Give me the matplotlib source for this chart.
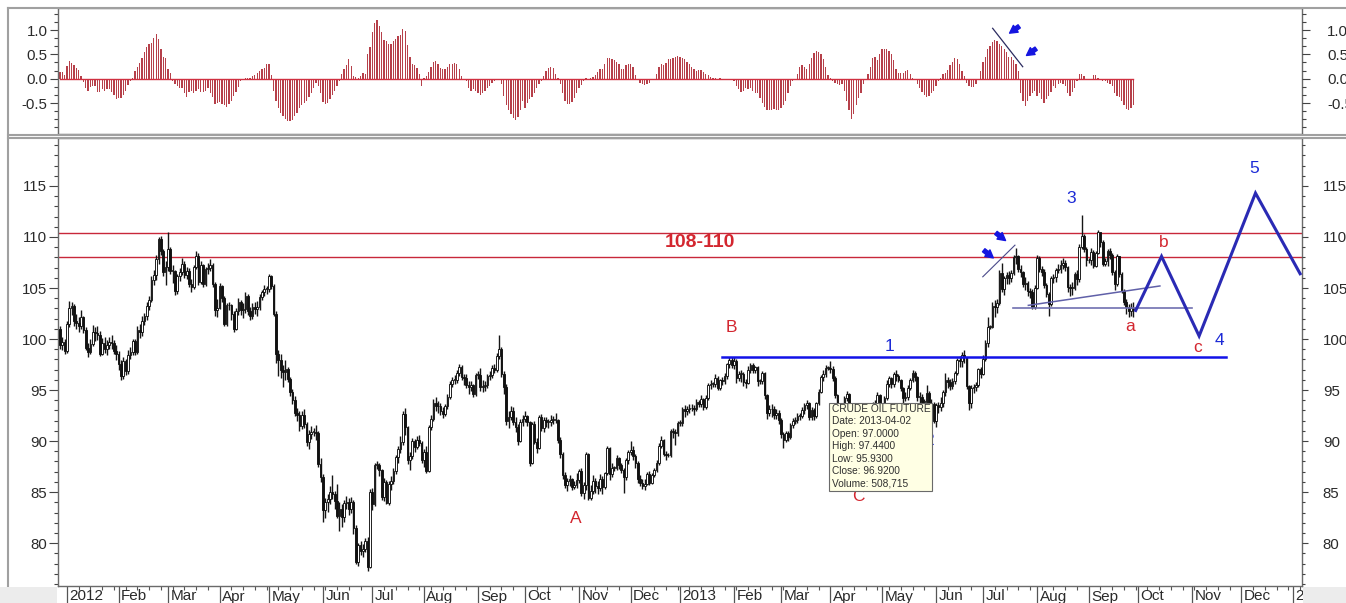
import numpy as np
import pandas as pd
import matplotlib
matplotlib.use('Agg')
import matplotlib.pyplot as plt
from matplotlib.patches import Rectangle
from matplotlib.lines import Line2D
import matplotlib.transforms as mtrans
from matplotlib.ticker import MultipleLocator, FixedLocator, NullFormatter, FormatStrFormatter

plt.rcParams['font.family'] = ['Liberation Sans', 'DejaVu Sans']

# ---------------- data (trading days from 2011-12-28) ----------------
start_date = '2011-12-28'
first_open = 101.0

closes = [
    99.4, 99.7, 98.8,
    101.5, 103.0, 103.2, 101.8, 101.6, 101.3, 102.2, 100.9, 99.1, 98.7, 99.5, 100.7, 100.6, 100.4, 98.5, 99.6, 99.0, 99.4, 99.7, 99.6, 98.8, 98.5,
    97.6, 96.4, 97.8, 96.9, 98.4, 98.7, 99.8, 98.7, 100.9, 100.7, 101.8, 102.3, 103.2, 103.8, 105.8, 106.3, 107.8, 109.8, 108.6, 106.6, 107.1,
    108.8, 106.7, 106.7, 104.7, 106.2, 106.6, 107.4, 106.3, 106.7, 105.4, 105.1, 107.1, 108.1, 105.6, 107.3, 105.4, 106.9, 107.0, 107.3, 105.4, 102.8, 103.0,
    105.2, 104.0, 101.5, 103.3, 103.3, 102.5, 101.0, 102.7, 103.6, 102.8, 102.9, 104.2, 102.7, 102.3, 103.1, 102.9, 103.1, 104.1, 104.6, 104.9, 104.9,
    106.2, 105.2, 102.5, 98.5, 97.9, 97.0, 96.8, 97.1, 96.1, 94.8, 94.0, 92.8, 92.6, 91.5, 92.6, 91.7, 89.9, 90.7, 90.9, 90.9, 90.8, 87.8, 86.5,
    83.2, 84.0, 84.3, 85.0, 84.8, 84.1, 82.7, 83.3, 82.6, 83.9, 84.0, 83.3, 84.0, 81.5, 78.2, 79.8, 79.2, 79.4, 80.2, 77.7, 85.0,
    83.8, 87.7, 87.7, 87.2, 84.5, 86.0, 83.9, 85.8, 86.1, 87.1, 88.4, 89.2, 89.9, 92.7, 91.4, 88.1, 88.5, 90.0, 89.4, 90.1, 89.8, 88.1,
    88.9, 87.1, 91.4, 92.2, 93.7, 93.4, 93.4, 92.9, 92.7, 93.4, 94.3, 95.6, 96.0, 96.0, 96.7, 97.3, 96.3, 96.2, 95.5, 95.3, 95.5, 94.6, 96.5,
    96.5, 95.3, 95.4, 95.5, 96.4, 96.5, 97.2, 97.0, 98.3, 99.0, 96.6, 95.3, 92.0, 92.4, 92.9, 91.9, 91.4, 90.0, 91.9, 92.2,
    92.5, 91.9, 87.9, 91.7, 89.9, 89.3, 92.4, 91.3, 92.1, 91.9, 91.9, 92.1, 92.1, 92.1, 90.1, 88.7, 86.7, 85.7, 86.1, 86.3, 85.5, 85.7, 86.2,
    87.1, 84.9, 85.7, 88.7, 84.4, 85.1, 86.1, 85.6, 85.4, 86.3, 85.5, 86.9, 89.3, 86.8, 87.4, 87.4, 88.3, 87.7, 87.2, 86.5, 88.1, 88.9,
    89.1, 88.5, 87.9, 86.3, 85.9, 85.6, 85.8, 86.8, 85.9, 86.7, 87.2, 87.9, 89.5, 90.1, 88.7, 88.6, 88.6, 91.0, 90.9, 90.8, 91.8,
    91.8, 93.1, 92.9, 93.1, 93.2, 93.2, 93.1, 93.8, 93.6, 94.1, 93.3, 94.2, 95.5, 95.6, 95.6, 96.2, 95.2, 96.0, 95.9, 96.4, 97.6, 97.9, 97.5,
    97.8, 96.2, 96.6, 96.6, 95.8, 95.7, 97.0, 97.5, 97.0, 97.3, 95.9, 95.9, 96.7, 94.5, 92.8, 93.1, 93.1, 92.6, 92.8, 92.1,
    90.7, 90.1, 90.8, 90.4, 91.6, 92.0, 92.1, 92.5, 92.5, 93.0, 93.5, 93.7, 92.4, 93.0, 92.5, 93.7, 94.8, 96.3, 96.6, 97.2, 97.2,
    97.1, 96.2, 94.5, 93.3, 92.7, 93.4, 94.2, 94.6, 93.5, 91.3, 88.7, 88.7, 86.7, 87.7, 88.0, 88.8, 89.2, 91.4, 93.6, 93.0, 94.5, 93.5,
    91.0, 94.2, 95.6, 96.2, 95.6, 96.6, 96.4, 96.0, 95.2, 94.2, 94.3, 95.2, 96.0, 96.7, 96.3, 94.3, 94.3, 93.8, 93.8, 94.7, 93.1, 93.6, 92.0,
    93.5, 93.3, 93.7, 94.8, 96.0, 95.8, 95.4, 95.9, 96.7, 97.9, 97.8, 98.4, 98.2, 95.4, 93.7, 95.2, 95.3, 95.5, 97.1, 96.6,
    98.0, 99.6, 101.2, 101.2, 103.2, 103.1, 103.5, 106.5, 104.9, 106.0, 106.3, 106.0, 106.5, 108.0, 108.1, 106.9, 106.6, 105.4, 105.5, 104.7, 104.6, 103.1, 105.0,
    107.9, 106.9, 106.6, 105.3, 104.4, 103.4, 106.0, 106.1, 106.8, 106.9, 107.3, 107.5, 107.1, 105.1, 105.0, 105.0, 106.4, 105.9, 109.0, 110.1, 108.8, 107.7,
    107.7, 108.5, 107.2, 108.4, 110.5, 109.5, 107.4, 107.6, 108.6, 108.2, 106.6, 105.4, 108.1, 106.4, 104.7, 103.6, 103.1, 102.7, 103.0, 102.9,
]

highs = [
    101.3, 100.2, 100.0,
    101.8, 103.7, 103.6, 103.4, 102.5, 102.2, 102.8, 102.3, 101.2, 99.6, 100.0, 101.4, 101.2, 101.3, 100.8, 100.1, 100.2, 99.9, 100.2, 100.4, 99.9, 99.4,
    98.8, 97.9, 98.2, 98.0, 98.9, 99.2, 100.0, 100.0, 101.3, 101.5, 102.3, 102.6, 103.6, 104.2, 106.2, 106.8, 108.2, 110.0, 110.1, 108.8, 107.6,
    110.5, 109.0, 107.3, 106.8, 106.4, 107.0, 107.9, 107.6, 107.1, 107.0, 105.9, 107.3, 108.6, 108.4, 107.6, 107.4, 107.1, 107.5, 107.8, 107.5, 105.6, 103.9,
    105.5, 105.3, 104.2, 103.5, 103.6, 103.4, 102.7, 103.0, 104.0, 103.8, 103.5, 104.6, 104.4, 103.1, 103.5, 103.6, 103.7, 104.4, 104.8, 105.3, 105.2,
    106.4, 106.3, 105.4, 102.7, 98.9, 98.5, 97.5, 97.9, 97.3, 96.3, 95.1, 94.4, 93.2, 92.9, 92.9, 93.1, 91.9, 91.1, 91.5, 91.3, 91.6, 91.0, 88.3,
    86.8, 84.4, 84.8, 85.6, 86.7, 85.1, 85.8, 84.0, 83.8, 84.2, 84.6, 84.4, 84.5, 84.2, 81.8, 80.0, 80.2, 79.9, 80.5, 80.6, 85.3,
    85.4, 87.9, 88.0, 87.9, 87.3, 86.4, 86.2, 86.1, 86.6, 87.4, 88.6, 89.5, 90.5, 92.9, 93.2, 91.5, 88.9, 90.3, 90.2, 90.5, 90.6, 90.0,
    89.2, 89.5, 91.6, 92.6, 94.1, 94.3, 93.9, 93.7, 93.3, 93.6, 94.6, 95.9, 96.3, 96.5, 97.0, 97.6, 97.5, 96.6, 96.6, 95.9, 95.9, 95.6, 96.7,
    96.9, 97.2, 96.0, 95.9, 96.6, 96.9, 97.5, 97.6, 98.6, 100.4, 99.2, 96.9, 95.6, 92.9, 93.4, 93.3, 92.4, 91.7, 92.2, 92.6,
    92.9, 92.6, 92.0, 91.9, 92.0, 90.3, 92.6, 92.7, 92.4, 92.4, 92.2, 92.6, 92.5, 92.8, 92.2, 90.4, 88.9, 87.0, 86.4, 86.7, 86.4, 86.1, 86.9,
    87.3, 87.4, 86.0, 88.9, 88.8, 85.7, 86.7, 86.4, 86.1, 86.8, 86.6, 87.0, 89.5, 89.4, 87.9, 87.6, 88.6, 88.4, 87.9, 87.4, 88.3, 89.1,
    90.0, 89.5, 88.7, 88.0, 86.7, 86.3, 86.3, 87.0, 87.1, 86.9, 87.4, 88.1, 89.8, 90.5, 90.2, 89.0, 88.8, 91.2, 91.3, 91.2, 92.0,
    92.1, 93.3, 93.5, 93.4, 93.6, 93.6, 93.5, 94.1, 94.0, 94.5, 94.2, 94.5, 95.7, 96.0, 95.8, 96.6, 96.4, 96.1, 96.3, 96.7, 97.7, 98.2, 98.2,
    98.2, 98.0, 96.9, 97.0, 96.8, 96.1, 97.4, 97.7, 97.7, 97.4, 97.4, 96.1, 96.9, 96.8, 94.6, 93.5, 93.6, 93.4, 93.1, 93.0,
    92.3, 90.9, 91.0, 91.0, 91.8, 92.3, 92.4, 92.8, 92.8, 93.3, 93.7, 94.0, 93.8, 93.3, 93.2, 93.8, 95.1, 96.5, 97.0, 97.5, 97.4,
    97.8, 97.4, 96.4, 94.6, 93.5, 93.6, 94.4, 94.9, 94.7, 93.6, 91.4, 89.2, 88.9, 88.0, 88.3, 89.0, 89.5, 91.6, 93.8, 94.0, 94.8, 94.6,
    93.7, 94.4, 96.0, 96.4, 96.3, 96.8, 97.0, 96.6, 96.1, 95.3, 94.8, 95.5, 96.2, 97.0, 96.9, 96.4, 94.8, 94.6, 94.1, 95.5, 94.9, 94.1, 93.8,
    93.7, 93.8, 94.3, 95.0, 96.7, 96.3, 96.1, 96.2, 96.9, 98.1, 98.3, 98.7, 98.9, 98.2, 95.5, 95.5, 95.6, 95.8, 97.2, 97.3,
    98.4, 99.9, 102.2, 101.4, 103.6, 103.8, 103.9, 106.8, 107.5, 106.2, 106.6, 106.7, 106.8, 108.2, 108.9, 108.2, 107.3, 106.7, 106.1, 105.7, 105.0, 104.9, 105.3,
    108.2, 108.1, 107.2, 106.9, 105.5, 104.6, 106.2, 106.4, 107.0, 107.4, 107.7, 107.9, 107.7, 107.2, 105.4, 105.6, 106.6, 106.8, 109.3, 112.2, 110.3, 109.0,
    107.9, 108.9, 108.7, 108.6, 110.7, 110.3, 109.7, 107.9, 108.8, 108.9, 108.4, 106.8, 108.3, 108.1, 106.6, 104.9, 103.9, 103.4, 103.5, 103.6,
]

lows = [
    99.0, 98.9, 98.5,
    98.6, 101.2, 102.4, 101.3, 101.0, 100.7, 101.0, 100.6, 98.9, 98.2, 98.5, 99.3, 99.8, 99.9, 98.3, 98.4, 98.6, 98.4, 99.0, 99.0, 98.5, 97.9,
    97.0, 96.0, 96.1, 96.5, 96.6, 98.0, 98.4, 98.4, 98.5, 100.1, 100.3, 101.4, 101.9, 102.8, 103.6, 105.3, 105.8, 107.4, 108.2, 106.2, 105.3,
    106.7, 106.4, 105.5, 104.3, 104.4, 105.7, 106.3, 106.0, 105.9, 105.1, 104.6, 104.9, 106.9, 105.3, 105.4, 105.1, 105.2, 106.4, 106.7, 105.1, 102.3, 102.2,
    102.9, 103.6, 101.3, 101.3, 102.8, 101.9, 100.7, 100.9, 102.4, 102.4, 102.1, 102.6, 102.4, 101.9, 102.0, 102.5, 102.3, 102.8, 103.8, 104.2, 104.4,
    104.6, 104.9, 102.3, 97.7, 96.4, 96.2, 95.3, 96.0, 95.8, 94.4, 93.6, 92.5, 92.0, 91.0, 91.2, 91.3, 89.5, 89.2, 90.2, 90.5, 90.1, 87.5, 86.0,
    82.1, 82.5, 83.1, 83.8, 84.3, 83.3, 82.5, 81.2, 81.6, 82.1, 83.3, 82.8, 83.0, 80.9, 78.0, 77.8, 78.8, 78.6, 79.1, 77.3, 77.6,
    83.2, 83.6, 87.3, 86.6, 84.2, 84.1, 83.8, 83.7, 85.2, 85.8, 86.8, 87.9, 88.8, 89.6, 90.6, 87.8, 87.2, 88.2, 88.9, 89.2, 89.5, 87.9,
    87.5, 86.9, 87.0, 91.1, 92.0, 92.9, 92.8, 92.6, 92.3, 92.5, 93.1, 94.1, 95.3, 95.6, 95.7, 96.4, 96.0, 95.5, 95.2, 94.6, 94.9, 94.3, 94.4,
    96.1, 94.9, 94.8, 94.9, 95.2, 96.0, 96.2, 96.7, 96.8, 98.0, 96.3, 94.6, 91.6, 91.3, 92.1, 91.6, 90.9, 89.6, 89.9, 91.5,
    91.9, 91.5, 87.6, 87.8, 89.7, 88.8, 89.2, 91.0, 90.9, 91.4, 91.3, 91.5, 91.7, 91.8, 89.8, 88.3, 86.3, 85.4, 85.1, 85.6, 85.2, 85.3, 85.4,
    85.9, 84.6, 84.3, 85.2, 84.2, 84.2, 84.8, 84.9, 84.8, 85.1, 84.8, 85.3, 86.7, 86.2, 86.5, 87.1, 87.2, 87.3, 86.9, 84.9, 86.2, 87.8,
    88.6, 88.1, 87.4, 85.9, 85.6, 85.3, 85.2, 85.7, 85.7, 85.8, 86.5, 87.0, 87.7, 89.3, 88.5, 88.1, 88.4, 88.4, 90.3, 89.6, 90.5,
    91.5, 91.5, 92.4, 92.6, 92.8, 92.9, 92.6, 92.9, 93.3, 93.3, 93.0, 93.1, 94.0, 95.1, 95.3, 95.3, 95.0, 95.0, 95.5, 95.6, 96.1, 97.2, 97.2,
    97.1, 95.7, 95.9, 95.8, 95.4, 95.2, 95.6, 96.7, 96.7, 96.7, 95.4, 95.6, 95.6, 94.1, 92.2, 92.5, 92.4, 92.2, 92.2, 91.7,
    90.3, 89.3, 89.9, 90.0, 90.2, 91.3, 91.7, 91.8, 92.1, 92.3, 92.7, 93.1, 92.1, 92.1, 92.1, 92.3, 93.5, 94.7, 95.9, 96.3, 97.0,
    96.7, 95.9, 94.2, 92.6, 92.0, 92.4, 93.2, 93.9, 93.2, 90.8, 88.1, 87.3, 86.1, 86.1, 87.2, 87.6, 88.2, 88.9, 91.1, 92.5, 92.8, 93.1,
    90.9, 90.8, 94.0, 95.3, 95.2, 95.3, 95.9, 95.8, 94.9, 93.7, 93.9, 94.0, 95.0, 95.8, 95.9, 93.9, 93.7, 92.8, 93.6, 93.6, 93.0, 92.6, 91.8,
    91.4, 92.8, 92.9, 93.3, 94.4, 95.2, 95.0, 95.1, 95.6, 96.5, 97.3, 97.3, 97.7, 95.1, 93.0, 93.2, 94.7, 94.9, 95.3, 96.2,
    96.5, 97.8, 99.2, 101.0, 101.1, 102.2, 102.6, 103.3, 104.6, 104.3, 105.4, 105.4, 105.6, 106.3, 107.4, 106.6, 106.1, 105.1, 104.8, 104.2, 104.0, 102.9, 102.9,
    104.9, 106.6, 106.2, 105.0, 104.1, 102.3, 103.2, 105.5, 105.6, 106.5, 106.5, 106.9, 106.7, 104.6, 104.2, 104.3, 104.8, 105.3, 105.6, 108.8, 108.5, 107.2,
    107.5, 107.3, 107.0, 107.1, 108.3, 109.0, 107.2, 107.2, 107.2, 107.8, 106.3, 104.8, 105.2, 106.1, 104.5, 103.3, 102.5, 102.2, 102.3, 102.2,
]

oscillator = [
    0.14, 0.14, 0.07, 0.27, 0.37, 0.33, 0.28, 0.22, 0.18, 0.05,
    -0.07, -0.2, -0.25, -0.18, -0.15, -0.15, -0.27, -0.28, -0.22, -0.25, -0.22, -0.22, -0.27, -0.33, -0.42, -0.4, -0.4, -0.33, -0.25, -0.13,
    -0.05, 0.02,
    0.15, 0.25, 0.32, 0.43, 0.55, 0.65, 0.72, 0.73, 0.83, 0.92, 0.81, 0.6, 0.45, 0.42, 0.2, 0.12,
    -0.05, -0.1, -0.15, -0.2, -0.2, -0.3, -0.37, -0.28, -0.25, -0.3, -0.25, -0.22, -0.28, -0.27, -0.25, -0.2, -0.3, -0.38, -0.52, -0.5,
    -0.48, -0.52, -0.55, -0.58, -0.52, -0.45, -0.35, -0.27, -0.18,
    -0.05, 0.0, 0.01,
    0.02, 0.02, 0.05, 0.08, 0.12, 0.15, 0.2, 0.22, 0.3, 0.3, 0.07,
    -0.25, -0.45, -0.6, -0.7, -0.77, -0.82, -0.86, -0.87, -0.84, -0.77, -0.7, -0.6, -0.55, -0.5, -0.45, -0.38, -0.3, -0.2, -0.08, -0.15,
    -0.3, -0.48, -0.52, -0.5, -0.42, -0.33, -0.25, -0.14, -0.05,
    0.1, 0.2, 0.28, 0.4, 0.27, 0.05,
    0.03, 0.02, 0.05, 0.12, 0.1, 0.5, 0.65, 0.95, 1.15, 1.2, 1.08, 0.95, 0.8, 0.78, 0.72, 0.72, 0.78, 0.82, 0.88, 0.9, 1.02, 0.98,
    0.7, 0.45, 0.3, 0.28, 0.22,
    0.1, -0.15, 0.02,
    0.05, 0.13, 0.25, 0.35, 0.36, 0.3, 0.22, 0.2, 0.2, 0.25, 0.3, 0.3, 0.32, 0.3, 0.2, 0.05,
    -0.02, -0.05, -0.2, -0.25, -0.22, -0.25, -0.3, -0.33, -0.3, -0.25, -0.2, -0.15, -0.08, -0.05, -0.02,
    -0.02, -0.1,
    -0.35, -0.55, -0.65, -0.72, -0.8, -0.84, -0.78, -0.65, -0.45, -0.6, -0.5, -0.42, -0.38, -0.3, -0.2, -0.1, -0.04,
    0.05, 0.15, 0.22, 0.23, 0.22, 0.1, 0.02,
    -0.1, -0.3, -0.45, -0.52, -0.53, -0.48, -0.4, -0.3, -0.2, -0.12, -0.05,
    0.02, -0.02, 0.01, 0.03, 0.08, 0.13, 0.2, 0.2, 0.3, 0.43, 0.42, 0.4, 0.38, 0.35, 0.3, 0.2, 0.2, 0.28, 0.3, 0.3, 0.25, 0.08,
    -0.03, -0.08, -0.1, -0.13, -0.1, -0.08, -0.03, 0.0,
    0.1, 0.25, 0.3, 0.28, 0.33, 0.4, 0.4, 0.43, 0.45, 0.46, 0.45, 0.43, 0.4, 0.35, 0.3, 0.25, 0.2, 0.15, 0.17, 0.17, 0.13, 0.1, 0.07,
    0.03, 0.02, 0.01,
    0.0, 0.02, 0.0, -0.01, 0.0, -0.02,
    -0.03, -0.05, -0.15, -0.22, -0.28, -0.25, -0.2, -0.22, -0.2, -0.25, -0.3, -0.3, -0.4, -0.5, -0.58, -0.65, -0.65, -0.65, -0.62,
    -0.65, -0.65, -0.6, -0.55, -0.45, -0.3, -0.15, -0.05, -0.02,
    0.1, 0.25, 0.28, 0.25, 0.2, 0.3, 0.42, 0.52, 0.57, 0.55, 0.5, 0.4, 0.25, 0.08, 0.02,
    -0.05, -0.08, -0.1, -0.12, -0.1, -0.25, -0.45, -0.65, -0.82, -0.72, -0.55, -0.4, -0.3, -0.1, -0.02,
    0.1, 0.25, 0.42, 0.45, 0.38, 0.5, 0.6, 0.62, 0.6, 0.57, 0.5, 0.38, 0.2, 0.12,
    0.12, 0.12, 0.15, 0.18, 0.1, 0.02,
    -0.02, -0.1, -0.2, -0.28, -0.33, -0.38, -0.35, -0.3, -0.25, -0.15, -0.05,
    0.02, 0.1, 0.12, 0.18, 0.28, 0.35, 0.42, 0.4, 0.3, 0.15, 0.05,
    -0.08, -0.15, -0.18, -0.17, -0.1, -0.02,
    0.15, 0.35, 0.45, 0.6, 0.68, 0.75, 0.8, 0.78, 0.72, 0.68, 0.6, 0.55, 0.45, 0.45, 0.38, 0.3, 0.15,
    -0.3, -0.45, -0.57, -0.45, -0.35, -0.3, -0.25, -0.35, -0.3, -0.42, -0.5, -0.42, -0.35, -0.28, -0.15, -0.2, -0.1, -0.08, -0.1,
    -0.15, -0.3, -0.35, -0.28, -0.2, -0.05,
    0.1, 0.1, 0.05, 0.0,
    0.0, 0.0, 0.08, 0.07, 0.02,
    -0.03, -0.05, -0.05, -0.08, -0.1, -0.15, -0.3, -0.35, -0.38, -0.45, -0.55, -0.62, -0.65, -0.6, -0.55,
]

resistance_levels = [108.0, 110.4]
support_level = 98.2
zone_label = '108-110'
# projected wave path (trading-day index, price)
proj_idx = [458, 469, 485, 509, 528]
proj_price = [102.8, 108.1, 100.3, 114.3, 106.4]
tooltip_lines = ['CRUDE OIL FUTURE', 'Date: 2013-04-02', 'Open: 97.0000', 'High: 97.4400',
                 'Low: 95.9300', 'Close: 96.9200', 'Volume: 508,715']

# ---------------- derived ----------------
c = np.array(closes, dtype=float)
h = np.array(highs, dtype=float)
l = np.array(lows, dtype=float)
o = np.concatenate([[first_open], c[:-1]])
h = np.maximum(h, np.maximum(o, c))
l = np.minimum(l, np.minimum(o, c))
idx = np.arange(len(c))
osc = np.array(oscillator, dtype=float)
osc_idx = np.arange(len(osc))

axis_dates = pd.bdate_range(start_date, '2014-01-10')
per = axis_dates.to_period('M')
month_firsts = [i for i in range(1, len(axis_dates)) if per[i] != per[i - 1]]
month_labels = [str(axis_dates[i].year) if axis_dates[i].month == 1 else axis_dates[i].strftime('%b')
                for i in month_firsts]
mondays = [i for i, d in enumerate(axis_dates) if d.weekday() == 0 and i not in month_firsts]

# ---------------- figure ----------------
W, H = 1346, 603
fig = plt.figure(figsize=(W / 100, H / 100), dpi=100)
fig.patch.set_facecolor('white')
L, R = 58 / W, 1302 / W
fy = lambda p: 1 - p / H
ax_o = fig.add_axes([L, fy(134), R - L, fy(8) - fy(134)])
ax = fig.add_axes([L, fy(586), R - L, fy(138) - fy(586)], sharex=ax_o)

XMIN, XMAX = -0.8, 528.8
ax.set_xlim(XMIN, XMAX)

spine_col = '#6a6a6a'
lab_col = '#2a2a2a'
for a in (ax, ax_o):
    for s in a.spines.values():
        s.set_color(spine_col)
        s.set_linewidth(1.0)

# ---- oscillator panel ----
ax_o.bar(osc_idx, osc, width=0.55, color='#b6404a', linewidth=0, zorder=2)
ax_o.plot([osc_idx[0], osc_idx[-1]], [0, 0], color='#d03040', lw=1.0, zorder=3)
ax_o.set_ylim(-1.136, 1.452)
ax_o.yaxis.set_major_locator(FixedLocator([-0.5, 0.0, 0.5, 1.0]))
ax_o.yaxis.set_minor_locator(MultipleLocator(0.5 / 3))
ax_o.yaxis.set_major_formatter(FormatStrFormatter('%.1f'))
ax_o.tick_params(axis='y', which='major', direction='out', length=6, width=0.8, color='#444',
                 labelsize=10.8, labelcolor=lab_col, pad=1.5)
ax_o.tick_params(axis='y', which='minor', direction='out', length=3, width=0.8, color='#444')
ax_o.tick_params(axis='x', which='both', bottom=False, labelbottom=False)
axo_r = ax_o.twinx()
axo_r.set_ylim(ax_o.get_ylim())
axo_r.yaxis.set_major_locator(FixedLocator([-0.5, 0.0, 0.5, 1.0]))
axo_r.yaxis.set_minor_locator(MultipleLocator(0.5 / 3))
axo_r.yaxis.set_major_formatter(FormatStrFormatter('%.1f'))
axo_r.tick_params(axis='y', which='major', direction='out', length=6, width=0.8, color='#444',
                  labelsize=10.8, labelcolor=lab_col, pad=12)
axo_r.tick_params(axis='y', which='minor', direction='out', length=3, width=0.8, color='#444')
for s in axo_r.spines.values():
    s.set_visible(False)

# divergence line and arrows in oscillator panel
ax_o.plot([397.1, 409.9], [1.035, 0.246], color='#2b2b60', lw=0.9, zorder=4)
arrow_kw = dict(arrowstyle='simple,head_length=0.55,head_width=0.6,tail_width=0.28',
                color='#1515e0', mutation_scale=10, shrinkA=0, shrinkB=0)
ax_o.annotate('', xy=(404.3, 0.935), xytext=(408.4, 1.075), arrowprops=arrow_kw, zorder=5)
ax_o.annotate('', xy=(411.5, 0.477), xytext=(415.6, 0.617), arrowprops=arrow_kw, zorder=5)

# ---- price panel ----
ax.set_ylim(75.8, 119.7)
ax.vlines(idx, l, h, color='#151515', lw=1.0, zorder=2)
body_lo = np.minimum(o, c)
body_h = np.maximum(np.abs(c - o), 0.08)
up = c >= o
ax.bar(idx[up], body_h[up], bottom=body_lo[up], width=0.72, color='white',
       edgecolor='#111111', linewidth=0.65, zorder=3)
ax.bar(idx[~up], body_h[~up], bottom=body_lo[~up], width=0.72, color='#111111',
       edgecolor='#111111', linewidth=0.65, zorder=3)

red = '#d3262f'
blue_txt = '#1c2ad6'
for lvl in resistance_levels:
    ax.axhline(lvl, color='#c8283a', lw=1.0, zorder=1)
ax.text(272.5, 109.45, zone_label, color=red, fontsize=14, fontweight='bold', ha='center', va='center', zorder=5)

ax.plot([282, 496.5], [support_level, support_level], color='#1212e8', lw=1.8, zorder=4)

# triangle / trend lines
ax.plot([405.8, 481.8], [103.0, 103.0], color='#7070b0', lw=1.2, zorder=4)
ax.plot([412.3, 468.3], [103.3, 105.2], color='#6060a8', lw=1.1, zorder=4)
ax.plot([392.9, 406.6], [106.1, 109.2], color='#4a4a8a', lw=0.8, zorder=4)
ax.annotate('', xy=(402.6, 109.65), xytext=(398.5, 110.4), arrowprops=arrow_kw, zorder=5)
ax.annotate('', xy=(397.4, 107.95), xytext=(393.3, 108.7), arrowprops=arrow_kw, zorder=5)

# projected path
ax.plot(proj_idx, proj_price, color='#2a2ab4', lw=2.2, zorder=4, solid_joinstyle='miter', clip_on=True)

# wave labels
labels = [('B', 285.7, 101.1, red), ('1', 353.0, 99.3, blue_txt), ('A', 219.7, 82.45, red),
          ('C', 339.8, 84.6, red), ('2', 370.0, 90.1, blue_txt), ('3', 430.4, 113.8, blue_txt),
          ('a', 455.6, 101.2, red), ('b', 470.0, 109.5, red), ('c', 484.5, 99.2, red),
          ('4', 493.5, 99.9, blue_txt), ('5', 508.4, 116.7, blue_txt)]
for t, x, y, col in labels:
    ax.text(x, y, t, color=col, fontsize=12.5, ha='center', va='center', zorder=4)

# tooltip box
tx0, tx1 = 327.4, 371.3
ty0, ty1 = 85.1, 93.7
ax.add_patch(Rectangle((tx0, ty0), tx1 - tx0, ty1 - ty0, facecolor='#ffffe4', edgecolor='#6a6a6a',
                       lw=0.8, zorder=6))
line_y = np.linspace(93.17, 85.85, len(tooltip_lines))
for s, yy in zip(tooltip_lines, line_y):
    ax.text(tx0 + 1.1, yy, s, fontsize=7.3, color='#303030', ha='left', va='center', zorder=7)

# y axes (left and right)
ax.yaxis.set_major_locator(MultipleLocator(5))
ax.yaxis.set_minor_locator(MultipleLocator(1))
ax.tick_params(axis='y', which='major', direction='out', length=6.5, width=0.8, color='#444',
               labelsize=10.8, labelcolor=lab_col, pad=1.5)
ax.tick_params(axis='y', which='minor', direction='out', length=3, width=0.8, color='#444')
ax_r = ax.twinx()
ax_r.set_ylim(ax.get_ylim())
ax_r.yaxis.set_major_locator(MultipleLocator(5))
ax_r.yaxis.set_minor_locator(MultipleLocator(1))
ax_r.tick_params(axis='y', which='major', direction='out', length=4.5, width=0.8, color='#444',
                 labelsize=10.8, labelcolor=lab_col, pad=10.5)
ax_r.tick_params(axis='y', which='minor', direction='out', length=2.5, width=0.8, color='#444')
for s in ax_r.spines.values():
    s.set_visible(False)

# x axis: month boundaries + weekly ticks
ax.set_xticks(month_firsts)
ax.set_xticks(mondays, minor=True)
ax.tick_params(axis='x', which='major', direction='out', length=13, width=0.9, color='#555',
               labelbottom=False)
ax.tick_params(axis='x', which='minor', direction='out', length=3, width=0.8, color='#555')
trans = mtrans.blended_transform_factory(ax.transData, ax.transAxes)
trans = mtrans.offset_copy(trans, fig=fig, x=2.5, y=-3.5, units='dots')
for i, lab in zip(month_firsts, month_labels):
    ax.text(i, 0, lab, transform=trans, ha='left', va='top', fontsize=11, color=lab_col, clip_on=False)
ax.set_xlim(XMIN, XMAX)

# outer frame decorations
frame_col = '#a0a0a0'
fig.add_artist(Line2D([8 / W, 1], [fy(8), fy(8)], transform=fig.transFigure, color=frame_col, lw=1.5))
fig.add_artist(Line2D([8 / W, 8 / W], [fy(8), fy(586)], transform=fig.transFigure, color=frame_col, lw=1.5))
fig.add_artist(Line2D([8 / W, 1], [fy(134.5), fy(134.5)], transform=fig.transFigure, color=frame_col, lw=1.5))
fig.add_artist(Line2D([8 / W, 1], [fy(138), fy(138)], transform=fig.transFigure, color=frame_col, lw=1.5))
fig.add_artist(Rectangle((0, 0), 57 / W, fy(587), transform=fig.transFigure, facecolor='#ececec',
                         edgecolor='none', zorder=10))
fig.add_artist(Rectangle((1302.5 / W, 0), 1 - 1302.5 / W, fy(587), transform=fig.transFigure,
                         facecolor='#ececec', edgecolor='none', zorder=10))

fig.savefig('out.png', dpi=100)
